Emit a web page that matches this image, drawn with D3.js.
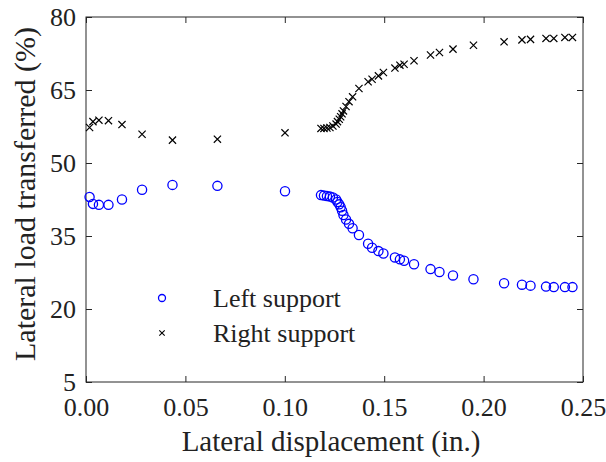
<!DOCTYPE html>
<html>
<head>
<meta charset="utf-8">
<script src="https://d3js.org/d3.v7.min.js"></script>
<style>
  body { margin: 0; background: #fff; }
  svg text { font-family: "Liberation Serif", "DejaVu Serif", serif; fill: #222; }
</style>
</head>
<body>
<div id="chart"></div>
<script>
// lateral displacement (in.)
var disp = [0.0018, 0.0035, 0.0065, 0.0113, 0.0181, 0.0282, 0.0435, 0.0661, 0.1001,
  0.1182, 0.1197, 0.1212, 0.1227, 0.1242, 0.1258, 0.1265, 0.1274, 0.1281, 0.1288,
  0.1295, 0.1308, 0.1323, 0.1341, 0.1373, 0.1419, 0.1439, 0.1471, 0.1496, 0.1554,
  0.1579, 0.1600, 0.1650, 0.1733, 0.1778, 0.1846, 0.1949, 0.2103, 0.2193, 0.2236,
  0.2314, 0.2353, 0.2409, 0.2447];
// load transferred to left support (%)
var leftSupport = [43.0, 41.6, 41.4, 41.4, 42.5, 44.5, 45.5, 45.3, 44.2,
  43.4, 43.3, 43.2, 43.1, 42.9, 42.5, 42.0, 41.5, 40.9, 40.2,
  39.3, 38.4, 37.5, 36.6, 35.2, 33.4, 32.6, 31.9, 31.4, 30.6,
  30.2, 29.9, 29.2, 28.2, 27.6, 26.9, 26.1, 25.3, 25.0, 24.8,
  24.6, 24.5, 24.5, 24.5];
// load transferred to right support (%)
var rightSupport = [57.3, 58.5, 58.8, 58.7, 57.9, 55.9, 54.7, 54.9, 56.2,
  57.1, 57.1, 57.2, 57.3, 57.6, 58.0, 58.5, 59.0, 59.5, 60.1,
  60.7, 61.6, 62.6, 63.6, 65.3, 66.7, 67.2, 67.9, 68.6, 69.5,
  70.1, 70.3, 71.0, 72.2, 72.7, 73.4, 74.2, 74.9, 75.3, 75.4,
  75.6, 75.6, 75.8, 75.8];
var xTicks = [0, 0.05, 0.10, 0.15, 0.20, 0.25];
var yTicks = [5, 20, 35, 50, 65, 80];
var legendLabels = ["Left support", "Right support"];

var W = 606, H = 462;
var margin = {top: 17, right: 23, bottom: 80, left: 86};
var width = W - margin.left - margin.right,
    height = H - margin.top - margin.bottom;

var svg = d3.select("#chart").append("svg")
    .attr("width", W).attr("height", H);
var g = svg.append("g")
    .attr("transform", "translate(" + margin.left + "," + margin.top + ")");

var x = d3.scaleLinear().domain([0, 0.25]).range([0, width]);
var y = d3.scaleLinear().domain([5, 80]).range([height, 0]);

// axes, ticks pointing inward like matlab
var axisColor = "#262626";
function styleAxis(sel) {
  sel.attr("font-family", null);
  sel.select(".domain").remove();
  sel.selectAll(".tick line").attr("stroke", axisColor);
  sel.selectAll(".tick text").style("font-size", "26px").attr("fill", "#222");
}
g.append("g")
  .attr("transform", "translate(0," + height + ")")
  .call(d3.axisBottom(x).tickValues(xTicks).tickFormat(d3.format(".2f"))
    .tickSizeInner(-6).tickSizeOuter(0).tickPadding(16))
  .call(styleAxis);
g.append("g")
  .call(d3.axisTop(x).tickValues(xTicks).tickFormat("")
    .tickSizeInner(-6).tickSizeOuter(0))
  .call(styleAxis);
g.append("g")
  .call(d3.axisLeft(y).tickValues(yTicks).tickFormat(d3.format("d"))
    .tickSizeInner(-6).tickSizeOuter(0).tickPadding(10))
  .call(styleAxis);
g.append("g")
  .attr("transform", "translate(" + width + ",0)")
  .call(d3.axisRight(y).tickValues(yTicks).tickFormat("")
    .tickSizeInner(-6).tickSizeOuter(0))
  .call(styleAxis);

g.append("rect")
  .attr("width", width).attr("height", height)
  .attr("fill", "none").attr("stroke", axisColor).attr("stroke-width", 1);

// axis titles
svg.append("text")
  .attr("x", 331)
  .attr("y", 451)
  .attr("text-anchor", "middle")
  .style("font-size", "29px")
  .text("Lateral displacement (in.)");
svg.append("text")
  .attr("transform", "translate(35,194) rotate(-90)")
  .attr("text-anchor", "middle")
  .style("font-size", "30px")
  .text("Lateral load transferred (%)");

// markers
var crossPath = function(s) {
  return "M" + (-s) + "," + (-s) + "L" + s + "," + s + "M" + (-s) + "," + s + "L" + s + "," + (-s);
};

g.selectAll(".left")
  .data(disp)
  .enter().append("circle")
    .attr("class", "left")
    .attr("cx", function(d) { return x(d); })
    .attr("cy", function(d, i) { return y(leftSupport[i]); })
    .attr("r", 4.6)
    .attr("fill", "none")
    .attr("stroke", "#0000ff")
    .attr("stroke-width", 1.3);

g.selectAll(".right")
  .data(disp)
  .enter().append("path")
    .attr("class", "right")
    .attr("transform", function(d, i) { return "translate(" + x(d) + "," + y(rightSupport[i]) + ")"; })
    .attr("d", crossPath(3.6))
    .attr("stroke", "#000")
    .attr("stroke-width", 1.2);

// legend
var lx = 162 - margin.left, ly = 298 - margin.top;
g.append("circle")
  .attr("cx", lx).attr("cy", ly).attr("r", 3.5)
  .attr("fill", "none").attr("stroke", "#0000ff").attr("stroke-width", 1.3);
g.append("path")
  .attr("transform", "translate(" + lx + "," + (ly + 35) + ")")
  .attr("d", crossPath(2.7))
  .attr("stroke", "#000").attr("stroke-width", 1.1);
g.selectAll(".legtext")
  .data(legendLabels)
  .enter().append("text")
    .attr("x", lx + 51)
    .attr("y", function(d, i) { return ly + 9 + i * 35; })
    .style("font-size", "26px")
    .text(function(d) { return d; });
</script>
</body>
</html>
